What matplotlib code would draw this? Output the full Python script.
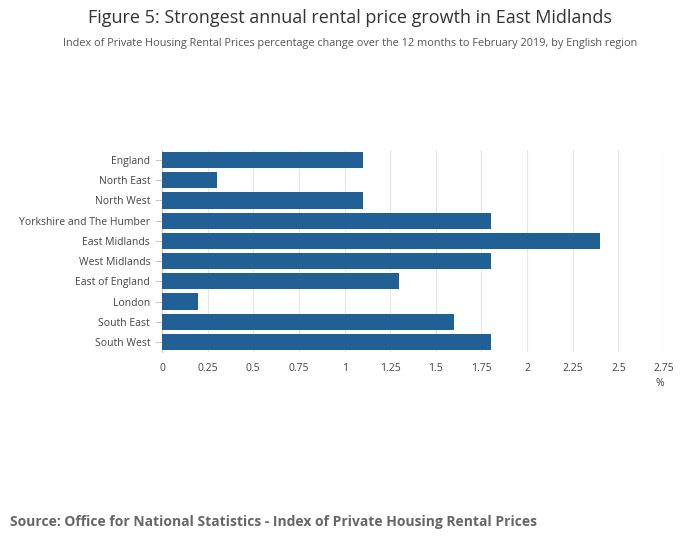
import matplotlib
matplotlib.use("Agg")
import matplotlib.pyplot as plt

regions = ["England", "North East", "North West", "Yorkshire and The Humber", "East Midlands",
           "West Midlands", "East of England", "London", "South East", "South West"]
values = [1.1, 0.3, 1.1, 1.8, 2.4, 1.8, 1.3, 0.2, 1.6, 1.8]
xticks = [0, 0.25, 0.5, 0.75, 1, 1.25, 1.5, 1.75, 2, 2.25, 2.5, 2.75]
xlabels = ["0", "0.25", "0.5", "0.75", "1", "1.25", "1.5", "1.75", "2", "2.25", "2.5", "2.75"]

plt.rcParams['font.family'] = ['Open Sans', 'DejaVu Sans']
fig = plt.figure(figsize=(7, 5.49), dpi=100)
ax = fig.add_axes([0.2314, 0.3588, 0.7172, 0.368])

y = list(range(len(regions)))
ax.barh(y, values, height=0.8, color="#206095", zorder=3)
ax.set_ylim(len(regions) - 0.5, -0.5)
ax.set_xlim(0, 2.75)
ax.set_yticks(y)
ax.set_yticklabels(regions, fontsize=7.5, color="#444444")
ax.set_xticks(xticks)
ax.set_xticklabels(xlabels, fontsize=7.5, color="#444444")
ax.grid(axis="x", color="#e6e6e6", linewidth=0.8, zorder=0)
for s in ["top", "right", "bottom"]:
    ax.spines[s].set_visible(False)
ax.spines["left"].set_color("#cccccc")
ax.tick_params(axis="x", length=0, pad=8)
ax.tick_params(axis="y", length=5, color="#cccccc")
ax.text(1.0, -0.17, "%", transform=ax.transAxes, ha="right", fontsize=7.5, color="#444444")

fig.text(0.5, 0.967, "Figure 5: Strongest annual rental price growth in East Midlands",
         ha="center", va="center", fontsize=13, color="#333333")
fig.text(0.5, 0.92, "Index of Private Housing Rental Prices percentage change over the 12 months to February 2019, by English region",
         ha="center", va="center", fontsize=7.8, color="#555555")
fig.text(0.014, 0.049, "Source: Office for National Statistics - Index of Private Housing Rental Prices",
         ha="left", va="center", fontsize=10, fontweight="bold", color="#666666")

fig.savefig("out.png", dpi=100)
